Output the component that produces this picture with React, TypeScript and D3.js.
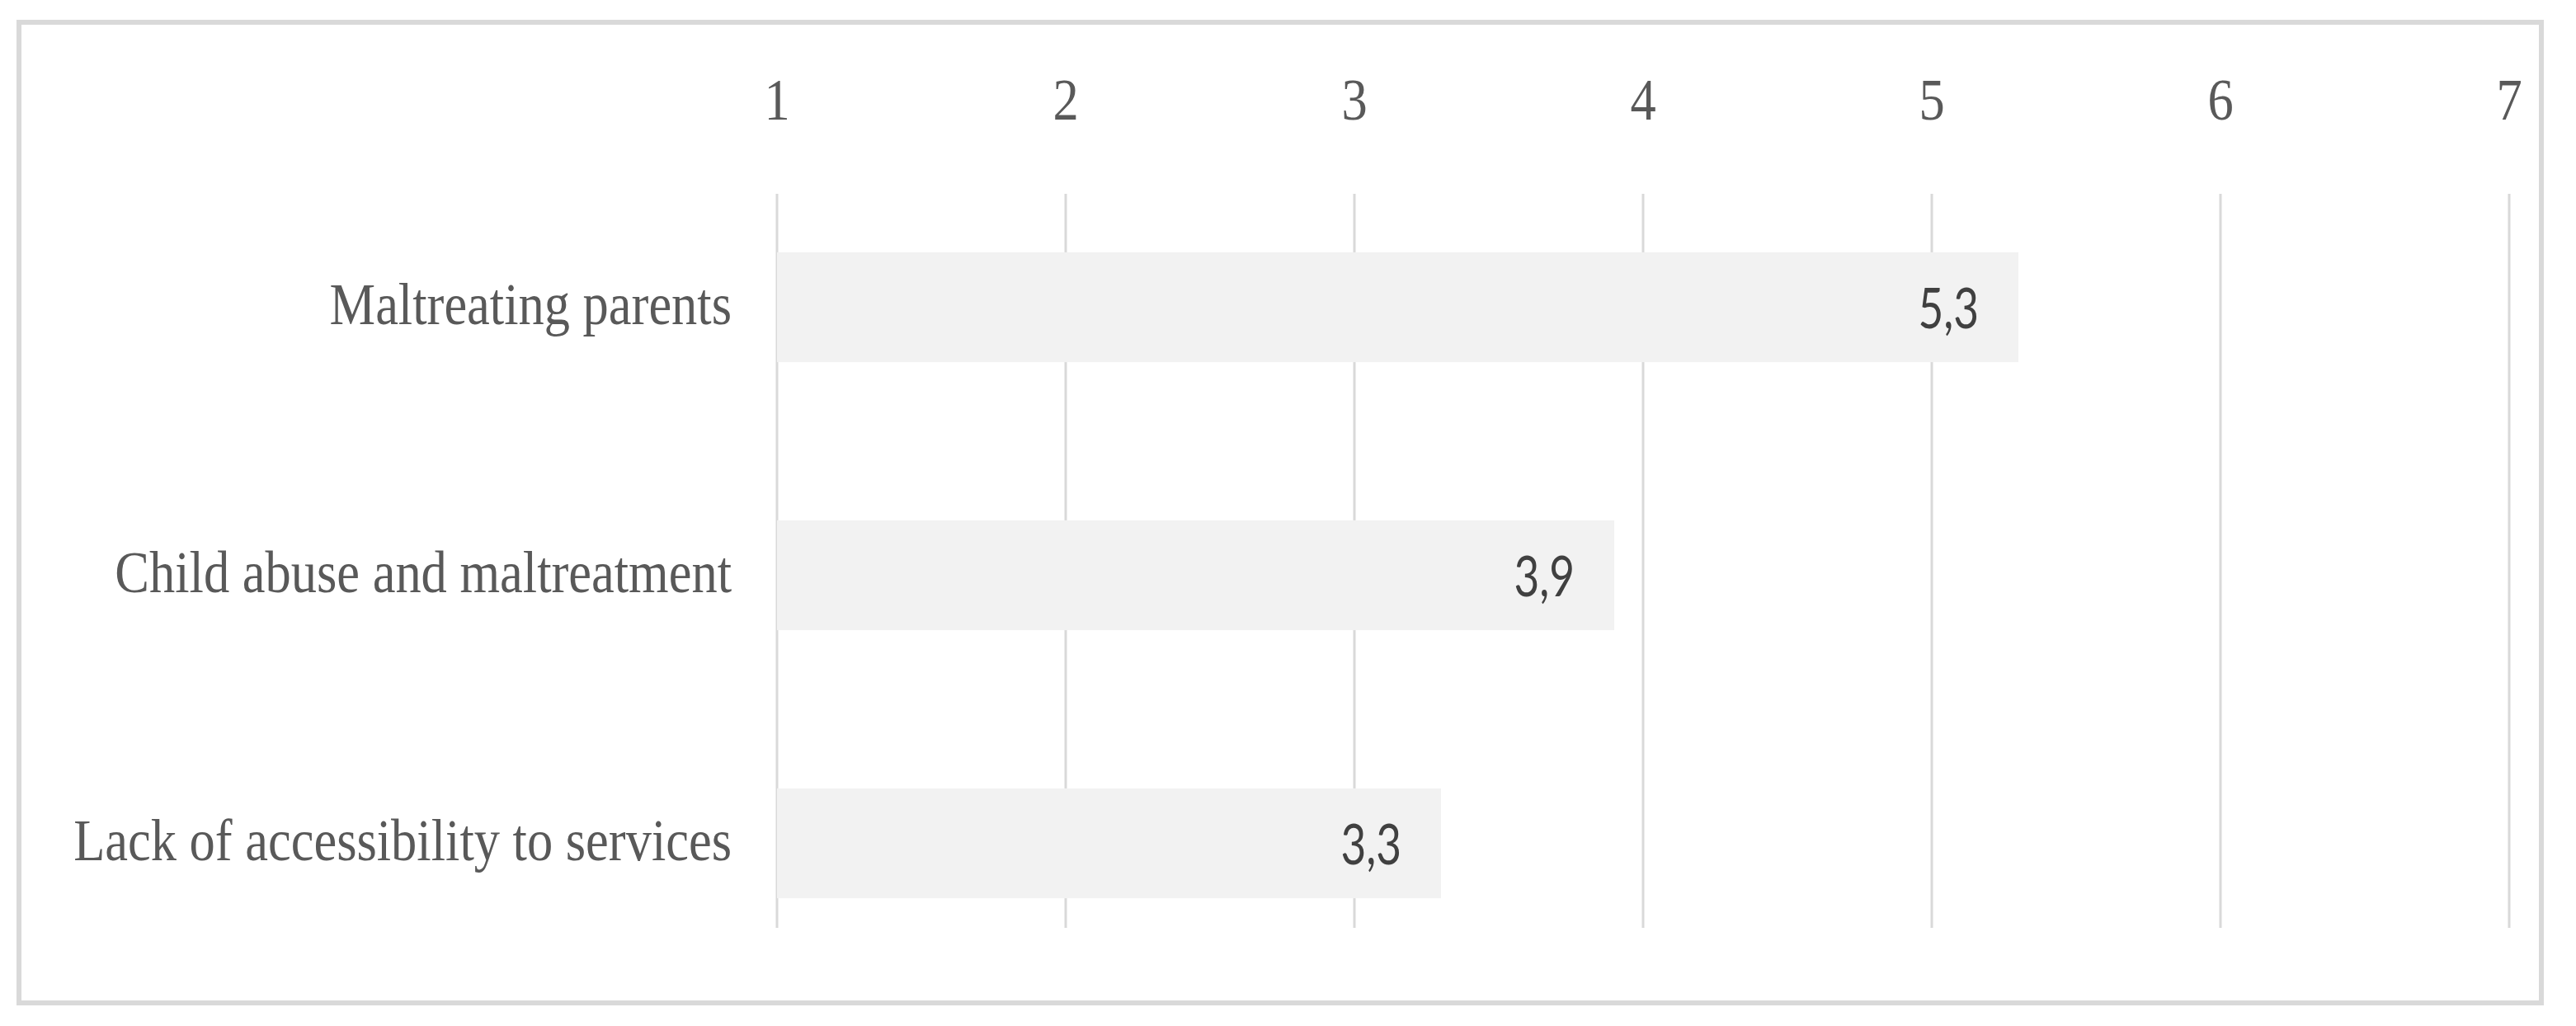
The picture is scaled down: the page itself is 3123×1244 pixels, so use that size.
import React, { useRef, useEffect } from 'react'
import * as d3 from 'd3'

const categories = ['Maltreating parents', 'Child abuse and maltreatment', 'Lack of accessibility to services']
const values = [5.3, 3.9, 3.3]
const ticks = [1, 2, 3, 4, 5, 6, 7]

export default function App() {
  const svgRef = useRef<SVGSVGElement>(null)

  useEffect(() => {
    const svg = d3.select(svgRef.current)
    svg.selectAll('*').remove()

    const width = 3123, height = 1244
    const serif = '"Liberation Serif", "Times New Roman", serif'
    const sans = 'Lato, "Open Sans", sans-serif'
    const squeeze = 0.88 // the source fonts are narrower than ours

    svg.attr('width', width).attr('height', height)

    // outer frame
    svg.append('rect')
      .attr('x', 23).attr('y', 27).attr('width', 3058).attr('height', 1189)
      .attr('fill', '#fff').attr('stroke', '#d9d9d9').attr('stroke-width', 6)

    const x = d3.scaleLinear().domain([1, 7]).range([942, 3042])
    const y = d3.scaleBand().domain(categories).range([210, 1185]).paddingInner(0.59).paddingOuter(0.295)
    const mid = (i: number) => y(categories[i])! + y.bandwidth() / 2

    // gridlines
    svg.append('g').selectAll('line')
      .data(ticks)
      .join('line')
      .attr('x1', d => x(d)).attr('x2', d => x(d))
      .attr('y1', 235).attr('y2', 1125)
      .attr('stroke', '#d9d9d9').attr('stroke-width', 3)

    // tick labels
    svg.append('g').selectAll('text')
      .data(ticks)
      .join('text')
      .attr('transform', d => `translate(${x(d)},145) scale(${squeeze},1)`)
      .attr('text-anchor', 'middle')
      .attr('font-family', serif).attr('font-size', '71px').attr('fill', '#595959')
      .text(d => d)

    // bars
    svg.append('g').selectAll('rect')
      .data(values)
      .join('rect')
      .attr('x', x(1))
      .attr('y', (d, i) => y(categories[i])!)
      .attr('width', d => x(d) - x(1))
      .attr('height', y.bandwidth())
      .attr('fill', '#f2f2f2')

    // value labels
    svg.append('g').selectAll('text')
      .data(values)
      .join('text')
      .attr('transform', (d, i) => `translate(${x(d) - 48},${mid(i) + 25}) scale(0.78,1)`)
      .attr('text-anchor', 'end')
      .attr('font-family', sans).attr('font-size', '68px').attr('fill', '#404040')
      .text(d => String(d).replace('.', ','))

    // category labels
    svg.append('g').selectAll('text')
      .data(categories)
      .join('text')
      .attr('transform', (d, i) => `translate(887,${mid(i) + 20}) scale(${squeeze},1)`)
      .attr('text-anchor', 'end')
      .attr('font-family', serif).attr('font-size', '71px').attr('fill', '#595959')
      .text(d => d)
  }, [])

  return <svg ref={svgRef} style={{ position: 'absolute', left: 0, top: 0 }} />
}
